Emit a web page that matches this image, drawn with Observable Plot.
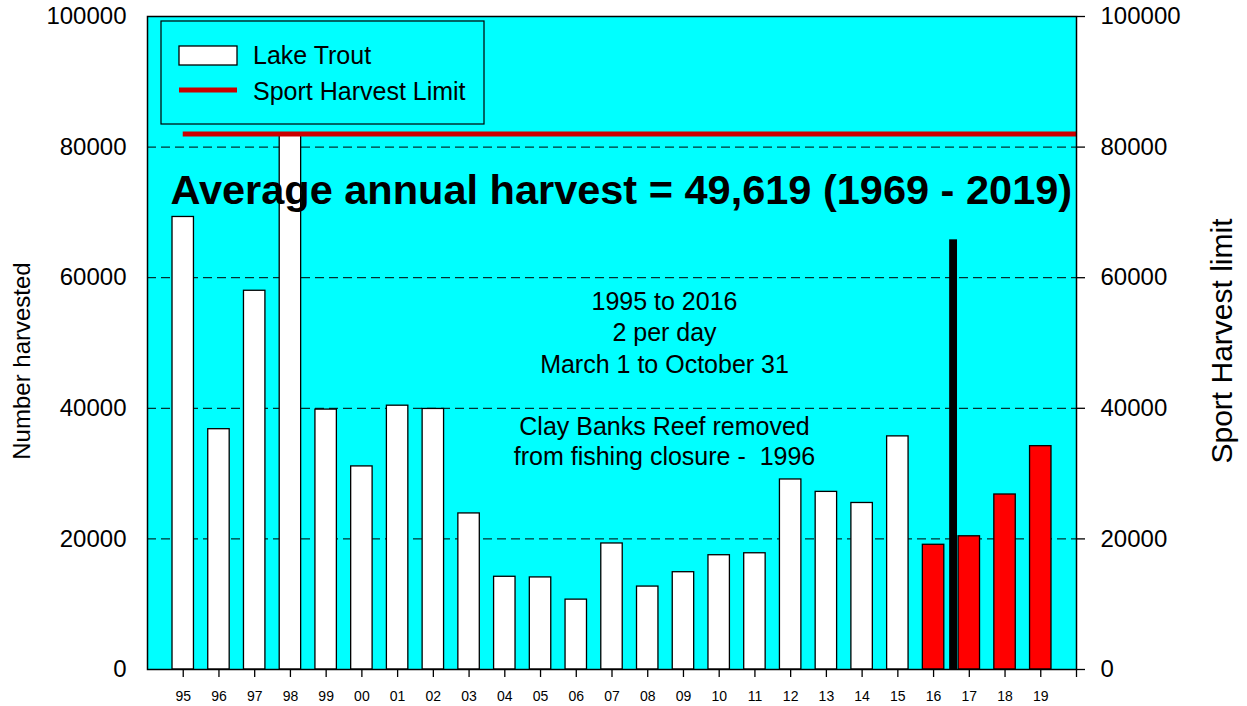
<!DOCTYPE html>
<html>
<head>
<meta charset="utf-8">
<script src="https://cdn.jsdelivr.net/npm/d3@7"></script>
<script src="https://cdn.jsdelivr.net/npm/@observablehq/plot@0.6"></script>
<style>
  html, body { margin: 0; padding: 0; background: white; }
  svg text { white-space: pre; }
</style>
</head>
<body>
<div id="chart"></div>
<script>
// ---- data ----
const years = ["95","96","97","98","99","00","01","02","03","04","05","06","07","08","09","10","11","12","13","14","15","16","17","18","19"];
const harvest = [69300, 36800, 58000, 82000, 39800, 31100, 40400, 39900, 23900, 14200, 14100, 10700, 19300, 12700, 14900, 17500, 17800, 29100, 27200, 25500, 35700, 19100, 20400, 26800, 34200];
const newRegYears = ["16","17","18","19"];
const harvestLimit = [82000];
const regChangeAfter = ["16"];
const regChangeValue = [65800];
const yTicks = [0, 20000, 40000, 60000, 80000, 100000];
const gridTicks = [20000, 40000, 60000, 80000];

const rows = years.map((y, i) => ({year: y, i: i + 1, value: harvest[i]}));
const oldRows = rows.filter(d => !newRegYears.includes(d.year));
const newRows = rows.filter(d => newRegYears.includes(d.year));
const regRows = regChangeAfter.map((y, k) => ({i: years.indexOf(y) + 1, value: regChangeValue[k]}));
const nPos = years.length + 1;

const font = "'Liberation Sans', Arial, sans-serif";

const chart = Plot.plot({
  width: 1247,
  height: 706,
  marginLeft: 147,
  marginRight: 171,
  marginTop: 16,
  marginBottom: 37,
  style: {fontFamily: font, background: "white", color: "black"},
  x: {type: "linear", domain: [0, nPos]},
  y: {domain: [0, 100000]},
  marks: [
    Plot.frame({fill: "#00FFFF"}),
    Plot.gridY(gridTicks, {stroke: "black", strokeOpacity: 1, strokeWidth: 1, strokeDasharray: "9,5"}),
    Plot.rect(oldRows, {x1: d => d.i - 0.3, x2: d => d.i + 0.3, y1: 0, y2: "value", fill: "white", stroke: "black", strokeWidth: 1.3}),
    Plot.rect(newRows, {x1: d => d.i - 0.3, x2: d => d.i + 0.3, y1: 0, y2: "value", fill: "#FF0000", stroke: "black", strokeWidth: 1.3}),
    Plot.rect(regRows, {x1: d => d.i + 0.45, x2: d => d.i + 0.67, y1: 0, y2: "value", fill: "black"}),
    Plot.ruleY(harvestLimit, {x1: 1, x2: nPos, stroke: "#CC0000", strokeWidth: 5}),
    Plot.text(["Average annual harvest = 49,619 (1969 - 2019)"], {
      text: d => d, frameAnchor: "top-left", dx: 23, dy: 187, lineAnchor: "bottom",
      textAnchor: "start", fontSize: 41.5, fontWeight: "bold", fill: "black"
    }),
    Plot.text(["1995 to 2016\n2 per day\nMarch 1 to October 31"], {
      text: d => d, frameAnchor: "top-left", dx: 517, dy: 356, lineAnchor: "bottom",
      textAnchor: "middle", fontSize: 25, lineHeight: 1.25, fill: "black"
    }),
    Plot.text(["Clay Banks Reef removed\nfrom fishing closure -  1996"], {
      text: d => d, frameAnchor: "top-left", dx: 517, dy: 448, lineAnchor: "bottom",
      textAnchor: "middle", fontSize: 25, lineHeight: 1.2, fill: "black"
    }),
    Plot.text(["Number harvested"], {
      text: d => d, frameAnchor: "left", textAnchor: "middle", dx: -125, dy: 18, rotate: -90, fontSize: 24, fill: "black"
    }),
    Plot.text(["Sport Harvest limit"], {
      text: d => d, frameAnchor: "right", textAnchor: "middle", dx: 146, dy: -2, rotate: -90, fontSize: 30, fill: "black"
    }),
    Plot.axisY({anchor: "left", ticks: yTicks, tickFormat: d => String(d), tickSize: 0, tickPadding: 21, fontSize: 24, label: null}),
    Plot.axisY({anchor: "right", ticks: yTicks, tickFormat: d => String(d), tickSize: 8, tickPadding: 16, fontSize: 24, label: null, strokeWidth: 1.3}),
    Plot.axisX({ticks: d3.range(1, nPos + 1), tickFormat: i => years[i - 1] ?? "", tickSize: 8, tickPadding: 14, fontSize: 14, label: null, strokeWidth: 1.3}),
    Plot.frame({stroke: "black", strokeWidth: 1.5})
  ]
});

document.getElementById("chart").appendChild(chart);

// ---- legend (inside the plot area, top-left) ----
const svg = d3.select(chart);
const lg = svg.append("g")
  .attr("font-family", font).attr("font-size", 25)
  .attr("text-anchor", "start").attr("fill", "black");
lg.append("rect").attr("x", 161).attr("y", 21).attr("width", 323).attr("height", 103)
  .attr("fill", "none").attr("stroke", "black").attr("stroke-width", 1.2);
lg.append("rect").attr("x", 179).attr("y", 46).attr("width", 58).attr("height", 19)
  .attr("fill", "white").attr("stroke", "black").attr("stroke-width", 1.3);
lg.append("text").attr("x", 253).attr("y", 64).attr("text-anchor", "start").text("Lake Trout");
lg.append("line").attr("x1", 179).attr("x2", 237).attr("y1", 90).attr("y2", 90)
  .attr("stroke", "#CC0000").attr("stroke-width", 5);
lg.append("text").attr("x", 253).attr("y", 99.5).attr("text-anchor", "start").text("Sport Harvest Limit");
</script>
</body>
</html>
